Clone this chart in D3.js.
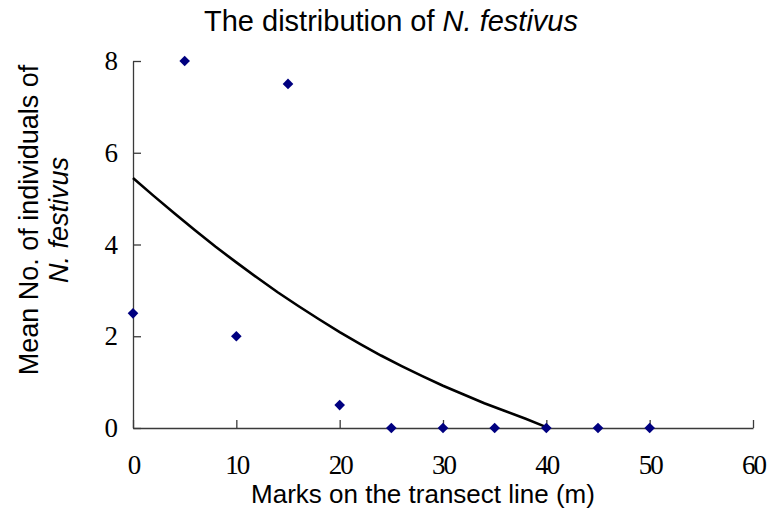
<!DOCTYPE html>
<html>
<head>
<meta charset="utf-8">
<script src="https://cdn.jsdelivr.net/npm/d3@7"></script>
<style>
  body { margin: 0; background: #fff; }
  svg text { fill: #000; }
</style>
</head>
<body>
<div class="chart"></div>
<script>
// observed means at each mark
var marks = [0, 5, 10, 15, 20, 25, 30, 35, 40, 45, 50];
var means = [2.5, 8, 2, 7.5, 0.5, 0, 0, 0, 0, 0, 0];

// trend line
var trendX = [0, 2, 4, 6, 8, 10, 12, 14, 16, 18, 20, 22, 24, 26, 28, 30, 32, 34, 36, 38, 40];
var trendY = [5.45, 5.06, 4.68, 4.31, 3.95, 3.61, 3.28, 2.96, 2.66, 2.37, 2.09, 1.83, 1.58, 1.35, 1.13, 0.92, 0.73, 0.54, 0.37, 0.2, 0.02];

var xTicks = [0, 10, 20, 30, 40, 50, 60];
var yTicks = [0, 2, 4, 6, 8];

var W = 771, H = 517;
var margin = {top: 61, right: 18, bottom: 89, left: 133};
var width = W - margin.left - margin.right,
    height = H - margin.top - margin.bottom;

var svg = d3.select(".chart").append("svg")
    .attr("width", W)
    .attr("height", H);

var g = svg.append("g")
    .attr("transform", "translate(" + margin.left + "," + margin.top + ")");

var x = d3.scaleLinear().domain([0, 60]).range([0, width]);
var y = d3.scaleLinear().domain([0, 8]).range([height, 0]);

// axes, ticks pointing inwards
var xAxis = g.append("g")
    .attr("transform", "translate(0," + height + ")")
    .call(d3.axisBottom(x).tickValues(xTicks).tickSize(-8).tickPadding(27).tickSizeOuter(0));
var yAxis = g.append("g")
    .call(d3.axisLeft(y).tickValues(yTicks).tickSize(-8).tickPadding(17).tickSizeOuter(0));

[xAxis, yAxis].forEach(function(a) {
  a.select(".domain").attr("stroke", "#3a3a3a").attr("stroke-width", 1.3);
  a.selectAll(".tick line").attr("stroke", "#3a3a3a").attr("stroke-width", 1.3);
  a.selectAll(".tick text")
    .attr("font-family", "'Liberation Serif', 'Times New Roman', serif")
    .attr("font-size", 27)
    .attr("letter-spacing", -2)
    .attr("fill", "#000");
});

// trend line
var line = d3.line()
    .x(function(d) { return x(d[0]); })
    .y(function(d) { return y(d[1]); });
g.append("path")
    .datum(trendX.map(function(v, i) { return [v, trendY[i]]; }))
    .attr("d", line)
    .attr("fill", "none")
    .attr("stroke", "#000")
    .attr("stroke-width", 2.6);

// diamonds
g.selectAll(".pt")
    .data(marks.map(function(v, i) { return [v, means[i]]; }))
    .enter().append("path")
    .attr("class", "pt")
    .attr("d", d3.symbol().type(d3.symbolDiamond2).size(72))
    .attr("transform", function(d) { return "translate(" + x(d[0]) + "," + y(d[1]) + ")"; })
    .attr("fill", "#000080");

// title
var title = svg.append("text")
    .attr("x", 391).attr("y", 31)
    .attr("text-anchor", "middle")
    .attr("font-family", "'Liberation Sans', Arial, sans-serif")
    .attr("font-size", 29);
title.append("tspan").text("The distribution of ");
title.append("tspan").attr("font-style", "italic").text("N. festivus");

// x label
svg.append("text")
    .attr("x", 423).attr("y", 503)
    .attr("text-anchor", "middle")
    .attr("font-family", "'Liberation Sans', Arial, sans-serif")
    .attr("font-size", 26)
    .text("Marks on the transect line (m)");

// y label, two lines
var yl = svg.append("text")
    .attr("transform", "translate(38,220) rotate(-90)")
    .attr("text-anchor", "middle")
    .attr("font-family", "'Liberation Sans', Arial, sans-serif")
    .attr("font-size", 27);
yl.append("tspan").attr("x", 0).attr("y", 0).text("Mean No. of individuals of");
yl.append("tspan").attr("x", 0).attr("y", 30).attr("font-style", "italic").text("N. festivus");
</script>
</body>
</html>
